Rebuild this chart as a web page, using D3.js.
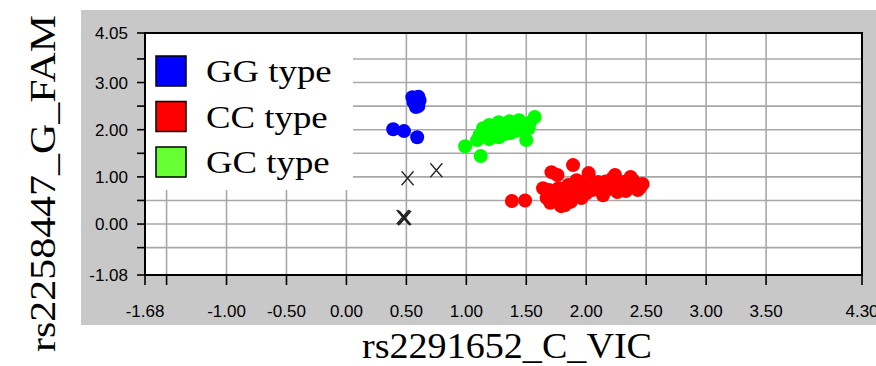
<!DOCTYPE html>
<html>
<head>
<meta charset="utf-8">
<script src="https://cdn.jsdelivr.net/npm/d3@7"></script>
<style>
    body { margin: 0; background: #fff; }
    svg { display: block; }
    .tick-label { font-family: "Liberation Sans", Arial, sans-serif; font-size: 17px; fill: #000; }
    .title { font-family: "Liberation Serif", "Times New Roman", serif; font-size: 35px; fill: #000; }
</style>
</head>
<body>
<div id="chart"></div>
<script>
// GG type (blue)
const ggX = [0.55, 0.60, 0.56, 0.60, 0.61, 0.58, 0.39, 0.48, 0.59];
const ggY = [2.69, 2.70, 2.58, 2.50, 2.62, 2.48, 2.01, 1.97, 1.84];

// GC type (green)
const gcX = [0.99, 1.12, 1.11, 1.14, 1.19, 1.23, 1.27, 1.31, 1.36, 1.40, 1.44, 1.47, 1.37, 1.27, 1.19, 1.52, 1.57, 1.50, 1.09, 1.32,
             1.16, 1.22, 1.29, 1.34, 1.42, 1.46, 1.53, 1.25, 1.17, 1.38];
const gcY = [1.65, 1.44, 1.89, 2.03, 2.10, 1.97, 2.16, 2.03, 2.18, 2.08, 2.20, 2.06, 1.93, 1.84, 1.80, 2.03, 2.27, 1.78, 1.78, 1.91,
             1.95, 2.05, 2.10, 1.97, 1.98, 2.14, 2.15, 1.90, 2.02, 2.10];

// CC type (red)
const ccX = [1.38, 1.49, 1.71, 1.89, 1.76, 1.67, 1.69, 1.74, 1.77, 1.81, 1.85, 1.89, 1.92, 1.96, 1.98, 2.02, 2.05, 2.10, 2.14,
             2.18, 2.22, 2.26, 2.31, 2.35, 2.39, 2.43, 2.47, 1.79, 1.87, 1.64, 1.82, 2.02, 2.24, 2.37,
             1.72, 1.83, 1.94, 2.00, 2.08, 2.12, 2.20, 2.28, 2.33, 2.41, 2.45, 1.95, 2.16, 1.70, 1.92];
const ccY = [0.49, 0.50, 1.10, 1.25, 1.04, 0.55, 0.72, 0.51, 0.76, 0.59, 0.83, 0.68, 0.93, 0.55, 0.81, 1.02, 0.72, 0.89, 0.61,
             0.85, 0.97, 0.68, 0.89, 0.78, 0.93, 0.72, 0.85, 0.38, 0.47, 0.76, 0.40, 1.08, 1.04, 1.00,
             0.62, 0.70, 0.75, 0.65, 0.78, 0.72, 0.75, 0.80, 0.70, 0.82, 0.78, 0.88, 0.90, 0.45, 0.60];

// undetermined (x marks)
const undX = [0.51, 0.75, 0.47, 0.48, 0.49, 0.48];
const undY = [0.97, 1.14, 0.15, 0.14, 0.13, 0.12];

const xTicks = [-1.68, -1.5, -1.0, -0.5, 0.0, 0.5, 1.0, 1.5, 2.0, 2.5, 3.0, 3.5, 4.30];
const xLabels = [-1.68, -1.0, -0.5, 0.0, 0.5, 1.0, 1.5, 2.0, 2.5, 3.0, 3.5, 4.30];
const yTicks = [-1.08, -0.5, 0.0, 0.5, 1.0, 1.5, 2.0, 2.5, 3.0, 3.5, 4.05];
const yLabels = [-1.08, 0.0, 1.0, 2.0, 3.0, 4.05];
const gridX = [-1.5, -1.0, -0.5, 0.0, 0.5, 1.0, 1.5, 2.0, 2.5, 3.0, 3.5];
const gridY = [-0.5, 0.0, 0.5, 1.0, 1.5, 2.0, 2.5, 3.0, 3.5];

const legendNames = ['GG type', 'CC type', 'GC type'];
const legendColors = ['#0000ff', '#ff0000', '#66ff33'];

const width = 876, height = 366;
const plot = { left: 145, right: 862, top: 33, bottom: 275 };

const svg = d3.select('#chart').append('svg')
    .attr('width', width)
    .attr('height', height);

const x = d3.scaleLinear().domain([-1.68, 4.30]).range([plot.left, plot.right]);
const y = d3.scaleLinear().domain([-1.08, 4.05]).range([plot.bottom, plot.top]);
const fmt = d => d3.format('.2f')(d).replace('−', '-');

// gray panel
svg.append('rect')
    .attr('x', 81).attr('y', 10)
    .attr('width', width - 81).attr('height', 315)
    .attr('fill', '#c8c8c8');

svg.append('rect')
    .attr('x', plot.left).attr('y', plot.top)
    .attr('width', plot.right - plot.left).attr('height', plot.bottom - plot.top)
    .attr('fill', '#fff');

// grid
const grid = svg.append('g').attr('stroke', '#a8a8a8').attr('stroke-width', 1.6);
grid.selectAll('.gx').data(gridX).enter().append('line')
    .attr('x1', d => x(d)).attr('x2', d => x(d))
    .attr('y1', plot.top).attr('y2', plot.bottom);
grid.selectAll('.gy').data(gridY).enter().append('line')
    .attr('y1', d => y(d)).attr('y2', d => y(d))
    .attr('x1', plot.left).attr('x2', plot.right);

// legend box covers the grid
const legend = svg.append('g');
legend.append('rect')
    .attr('x', plot.left).attr('y', plot.top)
    .attr('width', 208).attr('height', 157)
    .attr('fill', '#fff');

const item = legend.selectAll('.item')
    .data(legendNames)
    .enter()
    .append('g')
    .attr('transform', (d, i) => 'translate(156,' + (56 + i * 45.5) + ')');

item.append('rect')
    .attr('width', 30).attr('height', 30)
    .attr('fill', (d, i) => legendColors[i])
    .attr('stroke', '#000')
    .attr('stroke-width', 1.5);

item.append('text')
    .attr('class', 'title')
    .attr('transform', 'translate(50,26) scale(1.15,1)')
    .style('font-size', '32px')
    .text(d => d);

// points
const pts = svg.append('g');
function drawSeries(xs, ys, color) {
    pts.append('g')
        .selectAll('circle')
        .data(xs.map((v, i) => [v, ys[i]]))
        .enter()
        .append('circle')
        .attr('cx', d => x(d[0]))
        .attr('cy', d => y(d[1]))
        .attr('r', 7)
        .attr('fill', color);
}
drawSeries(ggX, ggY, '#0000ff');
drawSeries(gcX, gcY, '#00ff00');
drawSeries(ccX, ccY, '#ff0000');

pts.append('g')
    .selectAll('path')
    .data(undX.map((v, i) => [v, undY[i]]))
    .enter()
    .append('path')
    .attr('d', d => {
        const cx = x(d[0]), cy = y(d[1]);
        return 'M' + (cx - 6) + ',' + (cy - 7) + 'L' + (cx + 6) + ',' + (cy + 7)
            + 'M' + (cx + 6) + ',' + (cy - 7) + 'L' + (cx - 6) + ',' + (cy + 7);
    })
    .attr('stroke', '#222')
    .attr('stroke-width', 1.3)
    .attr('fill', 'none');

// frame
svg.append('rect')
    .attr('x', plot.left).attr('y', plot.top)
    .attr('width', plot.right - plot.left).attr('height', plot.bottom - plot.top)
    .attr('fill', 'none')
    .attr('stroke', '#000')
    .attr('stroke-width', 2);

// ticks
const ticks = svg.append('g').attr('stroke', '#000').attr('stroke-width', 1.6);
ticks.selectAll('.tx').data(xTicks).enter().append('line')
    .attr('x1', d => x(d)).attr('x2', d => x(d))
    .attr('y1', plot.bottom).attr('y2', plot.bottom + 10);
ticks.selectAll('.ty').data(yTicks).enter().append('line')
    .attr('y1', d => y(d)).attr('y2', d => y(d))
    .attr('x1', plot.left - 8).attr('x2', plot.left);

svg.append('g').selectAll('text')
    .data(xLabels)
    .enter()
    .append('text')
    .attr('class', 'tick-label')
    .attr('text-anchor', 'middle')
    .attr('x', d => x(d))
    .attr('y', 317)
    .text(fmt);

svg.append('g').selectAll('text')
    .data(yLabels)
    .enter()
    .append('text')
    .attr('class', 'tick-label')
    .attr('text-anchor', 'end')
    .attr('x', 128)
    .attr('y', d => y(d) + 6)
    .text(fmt);

// axis titles
svg.append('text')
    .attr('class', 'title')
    .attr('x', 362)
    .attr('y', 358)
    .attr('textLength', 290)
    .attr('lengthAdjust', 'spacingAndGlyphs')
    .text('rs2291652_C_VIC');

svg.append('text')
    .attr('class', 'title')
    .attr('transform', 'translate(55,352) rotate(-90)')
    .attr('textLength', 337)
    .attr('lengthAdjust', 'spacingAndGlyphs')
    .text('rs2258447_G_FAM');
</script>
</body>
</html>
